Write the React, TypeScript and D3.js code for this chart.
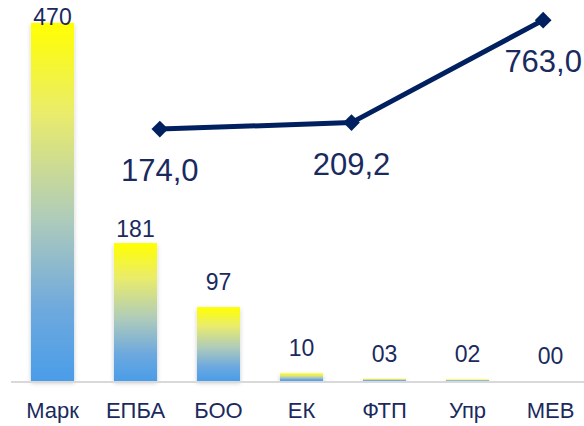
import React from "react";
import * as d3 from "d3";

const categories = ["Марк", "ЕПБА", "БОО", "ЕК", "ФТП", "Упр", "МЕВ"];
const barValues = [470, 181, 97, 10, 3, 2, 0];
const barLabels = ["470", "181", "97", "10", "03", "02", "00"];

const lineCategories = ["ЕПБА", "ФТП", "МЕВ"];
const lineValues = [174.0, 209.2, 763.0];
const lineLabels = ["174,0", "209,2", "763,0"];

const W = 584;
const H = 426;
const baseY = 381;
const FONT = "'Liberation Sans', Arial, sans-serif";
const NAVY = "#002060";
const TEXT = "#1a2a5e";

export default function App() {
  const x = d3.scaleBand<string>().domain(categories).range([11, 592]).paddingInner(0.48).paddingOuter(0.24);
  const y = d3.scaleLinear().domain([0, 500]).range([baseY, 0]);
  const xl = d3.scaleBand<string>().domain(lineCategories).range([64, 639]);
  const yl = d3.scaleLinear().domain([-1188, 872]).range([baseY, 0]);

  const linePts: [number, number][] = lineValues.map((v, i) => [
    (xl(lineCategories[i]) as number) + xl.bandwidth() / 2,
    yl(v),
  ]);
  const linePath = d3.line()(linePts) as string;
  const diamond = d3.symbol().type(d3.symbolSquare).size(140)() as string;

  const labelY = (v: number, i: number) => {
    const top = y(v);
    let yy = top - 17;
    if (i === 1) yy = top - 6;
    return Math.max(yy, 25);
  };

  return (
    <svg width={W} height={H} style={{ position: "absolute", left: 0, top: 0 }}>
      <defs>
        <linearGradient id="barGrad" x1="0" y1="0" x2="0" y2="1">
          <stop offset="0" stopColor="#FFFF00" />
          <stop offset="0.25" stopColor="#EAEC6A" />
          <stop offset="0.55" stopColor="#AECBBB" />
          <stop offset="0.8" stopColor="#6EA9DE" />
          <stop offset="1" stopColor="#4A9DE8" />
        </linearGradient>
        <filter id="shadow" x="-30%" y="-10%" width="160%" height="130%">
          <feDropShadow dx="0" dy="2" stdDeviation="2" floodColor="#000" floodOpacity="0.22" />
        </filter>
      </defs>
      <rect width={W} height={H} fill="#fff" />
      {categories.map((c, i) => {
        const h = baseY - y(barValues[i]);
        if (h <= 0) return null;
        return (
          <rect
            key={c}
            x={x(c)}
            y={y(barValues[i])}
            width={x.bandwidth()}
            height={h}
            fill="url(#barGrad)"
            filter="url(#shadow)"
          />
        );
      })}
      <line x1={11} x2={W} y1={baseY + 1} y2={baseY + 1} stroke="#d9d9d9" strokeWidth={2} />
      {categories.map((c, i) => (
        <text
          key={"bl" + c}
          x={(x(c) as number) + x.bandwidth() / 2}
          y={labelY(barValues[i], i)}
          textAnchor="middle"
          fontFamily={FONT}
          fontSize={23}
          fill={TEXT}
        >
          {barLabels[i]}
        </text>
      ))}
      {categories.map((c) => (
        <text
          key={"xl" + c}
          x={(x(c) as number) + x.bandwidth() / 2}
          y={418}
          textAnchor="middle"
          fontFamily={FONT}
          fontSize={22}
          fill={TEXT}
        >
          {c}
        </text>
      ))}
      <path d={linePath} fill="none" stroke={NAVY} strokeWidth={5} strokeLinejoin="round" />
      {linePts.map((p, i) => (
        <path
          key={"m" + i}
          d={diamond}
          transform={`translate(${p[0]},${p[1]}) rotate(45)`}
          fill={NAVY}
        />
      ))}
      {linePts.map((p, i) => (
        <text
          key={"ll" + i}
          x={p[0]}
          y={p[1] + 52}
          textAnchor="middle"
          fontFamily={FONT}
          fontSize={31}
          fill={TEXT}
        >
          {lineLabels[i]}
        </text>
      ))}
    </svg>
  );
}
